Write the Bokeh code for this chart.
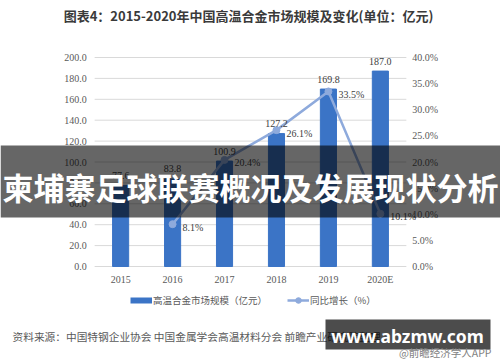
from bokeh.plotting import figure
from bokeh.models import (Range1d, FactorRange, ColumnDataSource, LabelSet, Label,
                          BoxAnnotation, Legend, LegendItem)
from bokeh.embed import file_html
from bokeh.resources import INLINE

# ---- data ----
years = ["2015", "2016", "2017", "2018", "2019", "2020E"]
market_size = [77.6, 83.8, 100.9, 127.2, 169.8, 187.0]
growth_years = ["2016", "2017", "2018", "2019", "2020E"]
growth_pct = [8.1, 20.4, 26.1, 33.5, 10.1]
size_ticks = [0, 20, 40, 60, 80, 100, 120, 140, 160, 180, 200]
pct_ticks = [0, 5, 10, 15, 20, 25, 30, 35, 40]

title_text = "图表4：2015-2020年中国高温合金市场规模及变化(单位：亿元)"
bar_name = "高温合金市场规模（亿元）"
line_name = "同比增长（%）"
source_text = "资料来源：中国特钢企业协会 中国金属学会高温材料分会 前瞻产业研究院整理"
banner_text = "柬埔寨足球联赛概况及发展现状分析"
site_text = "www.abzmw.com"
credit_text = "@前瞻经济学人APP"

# ---- style / layout ----
FONT = "Noto Sans CJK SC"
BAR = "#3B74C6"
LINE = "#8EAADC"
TXT = "#595959"
GRID = "#D9D9D9"

W, H = 500, 362
PLOT_L, PLOT_R, PLOT_T, PLOT_B = 58, 442, 57, 266   # chart area in page pixels
size_max, pct_max = size_ticks[-1], pct_ticks[-1]

unit_px = (PLOT_R - PLOT_L) / len(years)
x_pad = W / unit_px - len(years)
k = size_max / (PLOT_B - PLOT_T)
kp = pct_max / (PLOT_B - PLOT_T)

p = figure(width=W, height=H,
           x_range=FactorRange(*years, range_padding=x_pad, range_padding_units="absolute"),
           y_range=Range1d(-(H - PLOT_B) * k, size_max + PLOT_T * k),
           output_backend="svg", toolbar_location=None,
           x_axis_location=None, y_axis_location=None,
           min_border=0, outline_line_color=None,
           background_fill_color="white", border_fill_color="white")
p.extra_y_ranges = {"pct": Range1d(-(H - PLOT_B) * kp, pct_max + PLOT_T * kp)}
p.xgrid.visible = False
p.ygrid.visible = False

# gridlines
gsrc_ticks = ColumnDataSource(dict(y=size_ticks, lab=[f"{t:.1f}" for t in size_ticks],
                                   x0=[0] * len(size_ticks),
                                   x1=[len(years)] * len(size_ticks)))
p.segment(x0="x0", x1="x1", y0="y", y1="y", source=gsrc_ticks, line_color=GRID, line_width=1)

# bars
src = ColumnDataSource(dict(year=years, size=market_size,
                            lab=[f"{v:.1f}" for v in market_size]))
p.vbar(x="year", top="size", width=0.31, source=src, fill_color=BAR, line_color=BAR)

# growth line
gsrc = ColumnDataSource(dict(year=growth_years, g=growth_pct,
                             lab=[f"{v:.1f}%" for v in growth_pct]))
line_r = p.line(x="year", y="g", source=gsrc, y_range_name="pct",
                line_color=LINE, line_width=2.5)
dots_r = p.scatter(x="year", y="g", source=gsrc, y_range_name="pct", size=7,
                   fill_color=LINE, line_color=LINE)

# axis tick labels
p.add_layout(LabelSet(x="x0", y="y", text="lab", source=gsrc_ticks, x_offset=-8,
                      text_align="right", text_baseline="middle", text_font_size="10px",
                      text_color=TXT, text_font=FONT))
psrc_ticks = ColumnDataSource(dict(y=pct_ticks, lab=[f"{t:.1f}%" for t in pct_ticks],
                                   x=[len(years)] * len(pct_ticks)))
p.add_layout(LabelSet(x="x", y="y", text="lab", source=psrc_ticks, y_range_name="pct",
                      x_offset=6, text_align="left", text_baseline="middle",
                      text_font_size="10px", text_color=TXT, text_font=FONT))
ysrc = ColumnDataSource(dict(year=years, y=[0] * len(years)))
p.add_layout(LabelSet(x="year", y="y", text="year", source=ysrc, y_offset=-13,
                      text_align="center", text_baseline="middle", text_font_size="10px",
                      text_color=TXT, text_font=FONT))

# data labels
p.add_layout(LabelSet(x="year", y="size", text="lab", source=src, y_offset=10,
                      text_align="center", text_baseline="middle",
                      text_font_size="10px", text_color="#404040", text_font=FONT))
p.add_layout(LabelSet(x="year", y="g", text="lab", source=gsrc, y_range_name="pct",
                      x_offset=10, y_offset=-3, text_align="left", text_baseline="middle",
                      text_font_size="10px", text_color="#404040", text_font=FONT))

# legend (bar swatch drawn as a thick line glyph, no visible data)
bar_leg = p.line(x=[years[0]], y=[float("nan")], line_color=BAR, line_width=6,
                 line_cap="butt")
legend = Legend(items=[LegendItem(label=bar_name, renderers=[bar_leg]),
                       LegendItem(label=line_name, renderers=[line_r, dots_r])],
                location=(130, H - 307), orientation="horizontal", glyph_width=22,
                glyph_height=14, label_height=14, label_standoff=1, spacing=20,
                padding=0, margin=0, border_line_color=None, background_fill_alpha=0,
                label_text_font_size="9.5px", label_text_color=TXT, label_text_font=FONT)
p.add_layout(legend)


def lab(text, x, y, size, color, align="left", baseline="middle", bold=False, font=FONT):
    p.add_layout(Label(x=x, y=H - y, x_units="screen", y_units="screen", text=text,
                       text_align=align, text_baseline=baseline, text_font_size=size,
                       text_color=color, text_font=font,
                       text_font_style="bold" if bold else "normal"))


def box(l, r, t, b, alpha):
    p.add_layout(BoxAnnotation(left=l, right=r, top=H - t, bottom=H - b,
                               left_units="screen", right_units="screen",
                               top_units="screen", bottom_units="screen",
                               fill_color="black", fill_alpha=alpha, line_color=None))


lab(title_text, 248, 15, "13px", "#3a3a3a", align="center", bold=True)
lab(source_text, 12, 336, "10.7px", TXT)

# overlay banner
box(0, W, 145, 217, 0.6)
lab(banner_text, 250, 186, "31px", "white", align="center", bold=True)

# site watermark box
box(325, 490, 319, 349, 0.7)
lab(site_text, 407, 335, "17.5px", "white", align="center", bold=True, font="Noto Sans")
lab(credit_text, 491, 352, "10.5px", "#7f7f7f", align="right")

open("out.html", "w").write(file_html(p, INLINE))
